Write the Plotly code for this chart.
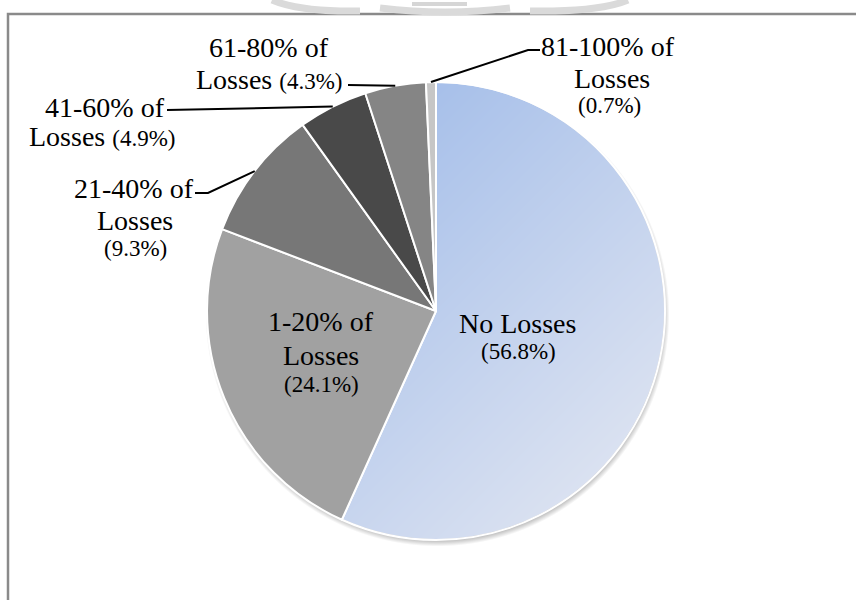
import base64
import math
import struct
import zlib

import numpy as np
import plotly.graph_objects as go

# ---- data -------------------------------------------------------------
categories = [
    "No Losses",
    "1-20% of Losses",
    "21-40% of Losses",
    "41-60% of Losses",
    "61-80% of Losses",
    "81-100% of Losses",
]
shares = [56.8, 24.1, 9.3, 4.9, 4.3, 0.7]

# ---- styling ----------------------------------------------------------
W, H = 856, 600
slice_colors = ["rgba(0,0,0,0)", "#a1a1a1", "#777777", "#494949", "#858585", "#c6c6c6"]
FONT = "Liberation Serif, Times New Roman, serif"
NAME_SIZE = 28
PCT_SIZE = 23

# pie geometry in page pixels
CX, CY, R = 436, 311, 229


def px(x):
    return x / W


def py(y):
    return 1 - y / H


# line layout of every label: templates and (x, y) centre positions in pixels
# {c}=full category, {h}=text before last word, {t}=last word, {p}=percentage
label_lines = [
    [("{c}", 517, 323), ("{p}", 518, 351)],
    [("{h}", 321, 321), ("{t}", 321, 355), ("{p}", 321, 384)],
    [("{h}", 134, 188), ("{t}", 135, 220), ("{p}", 135, 248)],
    [("{h}", 105, 107), ("{t} {p}", 102, 136)],
    [("{h}", 269, 47), ("{t} {p}", 269, 80)],
    [("{h}", 608, 46), ("{t}", 612, 78), ("{p}", 609, 106)],
]
# leader elbows (pixel points from the label side), None = no leader
leader_points = [
    None,
    None,
    [(195, 193), (208, 193)],
    [(167, 110)],
    [(348, 85)],
    [(540, 50), (528, 50)],
]


# ---- gradient fill + soft shadow for the pie disc ---------------------
def png_uri(rgba):
    h, w, _ = rgba.shape
    raw = b"".join(b"\x00" + rgba[i].tobytes() for i in range(h))

    def chunk(tag, data):
        c = struct.pack(">I", len(data)) + tag + data
        return c + struct.pack(">I", zlib.crc32(tag + data) & 0xFFFFFFFF)

    png = (
        b"\x89PNG\r\n\x1a\n"
        + chunk(b"IHDR", struct.pack(">IIBBBBB", w, h, 8, 6, 0, 0, 0))
        + chunk(b"IDAT", zlib.compress(raw, 9))
        + chunk(b"IEND", b"")
    )
    return "data:image/png;base64," + base64.b64encode(png).decode()


PAD = 14
x0, y0 = CX - R - PAD, CY - R - PAD
size = 2 * (R + PAD)
jj, ii = np.meshgrid(np.arange(size), np.arange(size))
X = x0 + jj + 0.5
Y = y0 + ii + 0.5
d = np.hypot(X - CX, Y - CY)
a_disc = np.clip(R - 0.5 - d, 0, 1)
t = np.clip(((X - (CX - R)) + (Y - (CY - R))) / (4 * R), 0, 1)[..., None]
c_start = np.array([146, 178, 231], float)
c_end = np.array([231, 234, 243], float)
disc_rgb = c_start + (c_end - c_start) * t
ds = np.hypot(X - (CX + 1.5), Y - (CY + 3.5))
a_sh = 0.38 * np.clip((R + 3 - ds) / 6.0, 0, 1)
A = a_disc + a_sh * (1 - a_disc)
rgb = (disc_rgb * a_disc[..., None] + np.array([90, 90, 90]) * (a_sh * (1 - a_disc))[..., None])
rgb = rgb / np.maximum(A, 1e-6)[..., None]
img = np.dstack([np.clip(rgb, 0, 255), np.clip(A * 255, 0, 255)]).astype(np.uint8)

# ---- figure -----------------------------------------------------------
fig = go.Figure()
fig.add_trace(
    go.Pie(
        labels=categories,
        values=shares,
        sort=False,
        direction="clockwise",
        rotation=0,
        textinfo="none",
        hoverinfo="label+percent",
        marker=dict(colors=slice_colors, line=dict(color="white", width=2)),
        domain=dict(x=[px(CX - R), px(CX + R)], y=[py(CY + R), py(CY - R)]),
        showlegend=False,
    )
)

images = [
    dict(
        source=png_uri(img),
        xref="paper", yref="paper",
        x=px(x0), y=py(y0), sizex=size / W, sizey=size / H,
        xanchor="left", yanchor="top", sizing="stretch", layer="below",
    )
]

annotations = []
shapes = []
total = sum(shares)
cum = 0.0
for k, (cat, val) in enumerate(zip(categories, shares)):
    mid = (cum + val / 2) / total * 2 * math.pi
    cum += val
    parts = cat.rsplit(" ", 1)
    head, tail = (parts[0], parts[1]) if len(parts) == 2 else (cat, "")
    pct_plain = f"({val:.1f}%)"
    pct_span = f'<span style="font-size:{PCT_SIZE}px">{pct_plain}</span>'
    for tmpl, lx, ly in label_lines[k]:
        if tmpl == "{p}":
            text, fsize = pct_plain, PCT_SIZE
        else:
            text, fsize = tmpl.format(c=cat, h=head, t=tail, p=pct_span), NAME_SIZE
        annotations.append(
            dict(
                text=text, x=px(lx), y=py(ly), xref="paper", yref="paper",
                xanchor="center", yanchor="middle", showarrow=False,
                borderpad=0,
                font=dict(family=FONT, size=fsize, color="black"),
            )
        )
    if leader_points[k]:
        ex = CX + R * math.sin(mid)
        ey = CY - R * math.cos(mid)
        pts = leader_points[k] + [(ex, ey)]
        path = "M " + " L ".join(f"{px(a):.5f},{py(b):.5f}" for a, b in pts)
        shapes.append(dict(type="path", path=path, xref="paper", yref="paper",
                           line=dict(color="black", width=2)))

# chart frame (top and left edges)
shapes.append(dict(
    type="path", xref="paper", yref="paper",
    path=f"M {px(8):.5f},{py(600):.5f} L {px(8):.5f},{py(14):.5f} L {px(856):.5f},{py(14):.5f}",
    line=dict(color="#8a8a8a", width=2.5),
))
# faint page emblem peeking above the frame
shapes.append(dict(
    type="path", xref="paper", yref="paper",
    path=(f"M {px(272):.5f},{py(0):.5f} Q {px(300):.5f},{py(12):.5f} {px(360):.5f},{py(11):.5f} "
          f"M {px(380):.5f},{py(8):.5f} Q {px(445):.5f},{py(16):.5f} {px(510):.5f},{py(8):.5f} "
          f"M {px(530):.5f},{py(11):.5f} Q {px(600):.5f},{py(12):.5f} {px(628):.5f},{py(0):.5f}"),
    line=dict(color="#dadada", width=7),
))
shapes.append(dict(
    type="line", xref="paper", yref="paper",
    x0=px(412), x1=px(467), y0=py(4), y1=py(4),
    line=dict(color="#d6d6d6", width=4),
))

fig.update_layout(
    width=W, height=H,
    margin=dict(l=0, r=0, t=0, b=0),
    paper_bgcolor="white",
    plot_bgcolor="white",
    images=images,
    annotations=annotations,
    shapes=shapes,
)

fig.write_html("out.html")
